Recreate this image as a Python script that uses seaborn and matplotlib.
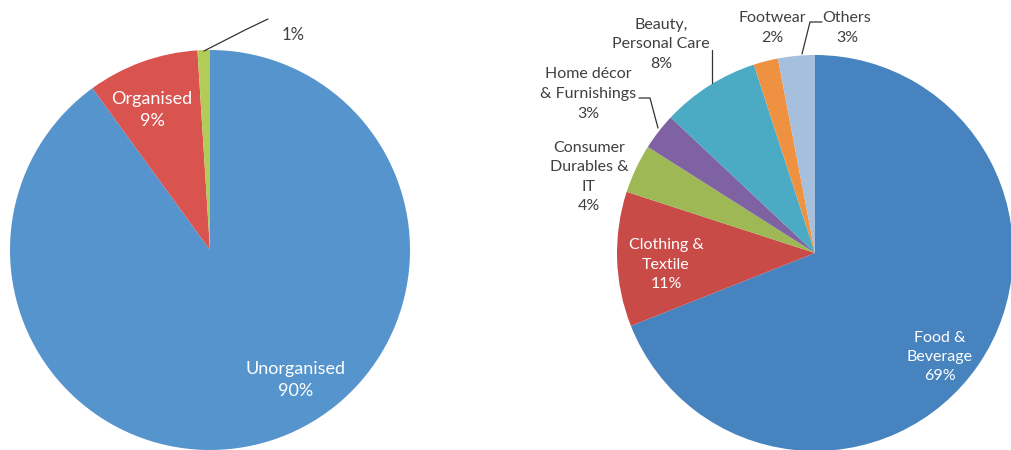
import matplotlib
matplotlib.use("Agg")
import matplotlib.pyplot as plt
import seaborn as sns

sns.set_theme(style="white")
plt.rcParams['font.family'] = ['Lato', 'DejaVu Sans']

# Left pie data
left_labels = ["Unorganised", "Organised", ""]
left_values = [90, 9, 1]
left_colors = ["#5594CC", "#D9534F", "#B3CB57"]

# Right pie data
right_labels = ["Food &\nBeverage", "Clothing &\nTextile", "Consumer\nDurables &\nIT",
                "Home décor\n& Furnishings", "Beauty,\nPersonal Care", "Footwear", "Others"]
right_values = [69, 11, 4, 3, 8, 2, 3]
right_colors = ["#4683BF", "#C94B48", "#9DB855", "#7E62A1", "#4BAAC4", "#EE9140", "#A5BFDD"]

fig = plt.figure(figsize=(10.12, 4.5), dpi=100)
ax = fig.add_axes([0, 0, 1, 1])
W, H = 1012, 450

def Y(y):  # convert from top-based pixel to data
    return H - y

ax.pie(left_values, colors=left_colors, startangle=90, counterclock=False,
       center=(210, Y(250)), radius=200, wedgeprops=dict(linewidth=0))
ax.pie(right_values, colors=right_colors, startangle=90, counterclock=False,
       center=(815, Y(253)), radius=198, wedgeprops=dict(linewidth=0))

ax.set_xlim(0, W)
ax.set_ylim(0, H)
ax.set_aspect('equal')
ax.axis('off')

dark = "#404040"
ls = 1.5
# Left labels
ax.text(152, Y(110), f"{left_labels[1]}\n{left_values[1]}%", color="white", fontsize=13,
        ha="center", va="center", linespacing=ls)
ax.text(296, Y(380), f"{left_labels[0]}\n{left_values[0]}%", color="white", fontsize=13,
        ha="center", va="center", linespacing=ls)
ax.text(293, Y(35), f"{left_values[2]}%", color=dark, fontsize=12, ha="center", va="center")
ax.plot([204, 245, 268], [Y(51), Y(30), Y(19)], color="#333333", lw=0.9)

# Right labels
fs = 11.5
ax.text(940, Y(357), f"{right_labels[0]}\n{right_values[0]}%", color="white", fontsize=fs,
        ha="center", va="center", linespacing=ls)
ax.text(666, Y(265), f"{right_labels[1]}\n{right_values[1]}%", color="white", fontsize=fs,
        ha="center", va="center", linespacing=ls)
ax.text(589, Y(177), f"{right_labels[2]}\n{right_values[2]}%", color=dark, fontsize=fs,
        ha="center", va="center", linespacing=ls)
ax.text(588, Y(94), f"{right_labels[3]}\n{right_values[3]}%", color=dark, fontsize=fs,
        ha="center", va="center", linespacing=ls)
ax.text(661, Y(44), f"{right_labels[4]}\n{right_values[4]}%", color=dark, fontsize=fs,
        ha="center", va="center", linespacing=ls)
ax.text(772, Y(28), f"{right_labels[5]}\n{right_values[5]}%", color=dark, fontsize=fs,
        ha="center", va="center", linespacing=ls)
ax.text(847, Y(28), f"{right_labels[6]}\n{right_values[6]}%", color=dark, fontsize=fs,
        ha="center", va="center", linespacing=ls)

lc = "#333333"
ax.plot([639, 650, 658], [Y(98), Y(98), Y(128)], color=lc, lw=0.9)
ax.plot([712, 712], [Y(50), Y(83)], color=lc, lw=0.9)
ax.plot([822, 810, 802], [Y(22), Y(22), Y(54)], color=lc, lw=0.9)

fig.savefig("out.png", dpi=100)
